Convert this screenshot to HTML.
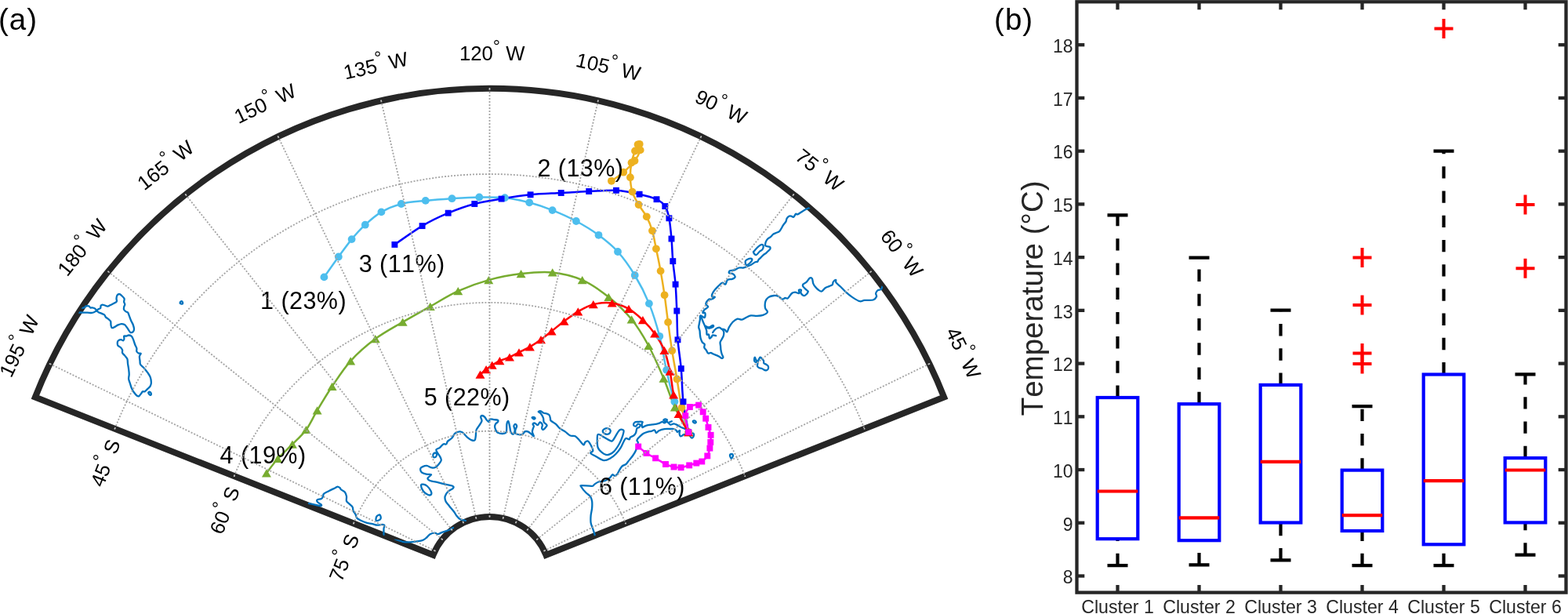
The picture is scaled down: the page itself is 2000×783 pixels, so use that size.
<!DOCTYPE html>
<html><head><meta charset="utf-8"><title>Figure</title>
<style>
html,body{margin:0;padding:0;background:#fff;}
svg{display:block;}
text{font-family:"Liberation Sans", Arial, Helvetica, sans-serif;font-kerning:none;font-feature-settings:"kern" 0;}
</style></head><body>

<svg width="2000" height="783" viewBox="0 0 2000 783">
<rect width="2000" height="783" fill="#fff"/>
<defs><clipPath id="fan"><path d="M44.89 506.5 A623.5 623.5 0 0 1 1204.11 506.5 L696.45 707.77 A77.4 77.4 0 0 0 552.55 707.77 Z"/></clipPath></defs>
<path d="M44.89 506.5 A623.5 623.5 0 0 1 1204.11 506.5 L696.45 707.77 A77.4 77.4 0 0 0 552.55 707.77 Z" fill="none" stroke="#262626" stroke-width="8" stroke-linejoin="miter" stroke-miterlimit="10"/>
<g clip-path="url(#fan)" fill="none" stroke="#0072BD" stroke-width="2.3" stroke-linejoin="round" stroke-linecap="round">
<path d="M99 392.5 C100.42 392.48 105.82 392.7 107.5 392.4 C109.18 392.1 108.13 391.05 109.1 390.7 C110.07 390.35 112.27 390.02 113.3 390.3 C114.33 390.58 114.55 392.05 115.3 392.4 C116.05 392.75 116.9 392.27 117.8 392.4 C118.7 392.53 119.8 392.72 120.7 393.2 C121.6 393.68 122.37 395.15 123.2 395.3 C124.03 395.45 124.87 394.52 125.7 394.1 C126.53 393.68 127.72 393.5 128.2 392.8 C128.68 392.1 128.18 390.58 128.6 389.9 C129.02 389.22 129.8 388.77 130.7 388.7 C131.6 388.63 132.9 389.17 134 389.5 C135.1 389.83 136.05 390.83 137.3 390.7 C138.55 390.57 139.83 389.52 141.5 388.7 C143.17 387.88 146.05 386.57 147.3 385.8 C148.55 385.03 148.8 384.93 149 384.1 C149.2 383.27 148.43 382.05 148.5 380.8 C148.57 379.55 148.77 377.57 149.4 376.6 C150.03 375.63 151.4 375 152.3 375 C153.2 375 153.77 375.63 154.8 376.6 C155.83 377.57 157.95 379.42 158.5 380.8 C159.05 382.18 157.97 383.67 158.1 384.9 C158.23 386.13 159.3 387.08 159.3 388.2 C159.3 389.32 158.3 390.48 158.1 391.6 C157.9 392.72 157.68 393.93 158.1 394.9 C158.52 395.87 159.77 396.78 160.6 397.4 C161.43 398.02 162.42 397.77 163.1 398.6 C163.78 399.43 164.02 400.67 164.7 402.4 C165.38 404.13 166.37 407.07 167.2 409 C168.03 410.93 169.07 412.2 169.7 414 C170.33 415.8 171 418.28 171 419.8 C171 421.32 170.47 422.42 169.7 423.1 C168.93 423.78 167.37 424.32 166.4 423.9 C165.43 423.48 164.73 421.77 163.9 420.6 C163.07 419.43 162.23 418 161.4 416.9 C160.57 415.8 160 414.63 158.9 414 C157.8 413.37 156.18 413.03 154.8 413.1 C153.42 413.17 152.13 413.7 150.6 414.4 C149.07 415.1 146.92 416.68 145.6 417.3 C144.28 417.92 143.38 418.52 142.7 418.1 C142.02 417.68 141.77 416.18 141.5 414.8 C141.23 413.42 141.65 411.12 141.1 409.8 C140.55 408.48 139.25 407.8 138.2 406.9 C137.15 406 135.63 405.3 134.8 404.4 C133.97 403.5 134.02 402.25 133.2 401.5 C132.38 400.75 131.15 400.45 129.9 399.9 C128.65 399.35 126.82 398.77 125.7 398.2 C124.58 397.63 124.17 396.5 123.2 396.5 C122.23 396.5 121 397.78 119.9 398.2 C118.8 398.62 117.98 398.93 116.6 399 C115.22 399.07 113.4 398.67 111.6 398.6 C109.8 398.53 108.23 398.67 105.8 398.6 C103.37 398.53 98.47 398.27 97 398.2"/>
<path d="M1036 263 C1035.38 263.35 1033.68 264.42 1032.3 265.1 C1030.92 265.78 1029.42 266.2 1027.7 267.1 C1025.98 268 1023.72 269.45 1022 270.5 C1020.28 271.55 1018.55 273.02 1017.4 273.4 C1016.25 273.78 1015.97 272.23 1015.1 272.8 C1014.23 273.37 1013.17 276.32 1012.2 276.8 C1011.23 277.28 1010.27 275.88 1009.3 275.7 C1008.33 275.52 1007.35 275.22 1006.4 275.7 C1005.45 276.18 1004.27 277.45 1003.6 278.6 C1002.93 279.75 1003.17 281.17 1002.4 282.6 C1001.63 284.03 1000.33 285.18 999 287.2 C997.67 289.22 995.93 293.07 994.4 294.7 C992.87 296.33 991.15 296.33 989.8 297 C988.45 297.67 987.45 297.85 986.3 298.7 C985.15 299.55 984.13 301.05 982.9 302.1 C981.67 303.15 979.95 303.85 978.9 305 C977.85 306.15 976.98 307.57 976.6 309 C976.22 310.43 975.75 312.63 976.6 313.6 C977.45 314.57 980.75 314.13 981.7 314.8 C982.65 315.47 982.68 316.65 982.3 317.6 C981.92 318.55 980.27 319.63 979.4 320.5 C978.53 321.37 978.05 322.03 977.1 322.8 C976.15 323.57 974.85 324.13 973.7 325.1 C972.55 326.07 971.25 327.55 970.2 328.6 C969.15 329.65 968.07 330.55 967.4 331.4 C966.73 332.25 966.88 333.22 966.2 333.7 C965.52 334.18 964.55 333.72 963.3 334.3 C962.05 334.88 959.85 336.53 958.7 337.2 C957.55 337.87 957.45 337.82 956.4 338.3 C955.35 338.78 953.8 339.57 952.4 340.1 C951 340.63 949.65 341.27 948 341.5 C946.35 341.73 944.38 341.02 942.5 341.5 C940.62 341.98 938.62 343.77 936.7 344.4 C934.78 345.03 932.12 344.67 931 345.3 C929.88 345.93 929.37 347.55 930 348.2 C930.63 348.85 933.52 348.4 934.8 349.2 C936.08 350 937.85 351.88 937.7 353 C937.55 354.12 935.5 355.27 933.9 355.9 C932.3 356.53 929.55 355.68 928.1 356.8 C926.65 357.92 926.32 361.95 925.2 362.6 C924.08 363.25 922.98 360.23 921.4 360.7 C919.82 361.17 917.62 363.5 915.7 365.4 C913.78 367.3 911.18 370.02 909.9 372.1 C908.62 374.18 907.68 376.77 908 377.9 C908.32 379.03 911.97 378.27 911.8 378.9 C911.63 379.53 908.27 381.23 907 381.7 C905.73 382.17 905.32 380.73 904.2 381.7 C903.08 382.67 900.47 385.9 900.3 387.5 C900.13 389.1 903.52 390.03 903.2 391.3 C902.88 392.57 899.52 393.82 898.4 395.1 C897.28 396.38 896.38 398.4 896.5 399 C896.62 399.6 898.6 398.12 899.1 398.7 C899.6 399.28 899.63 401.45 899.5 402.5 C899.37 403.55 899.33 405 898.3 405 C897.27 405 894.2 402.08 893.3 402.5 C892.4 402.92 893.1 405.98 892.9 407.5 C892.7 409.02 892.38 409.95 892.1 411.6 C891.82 413.25 891.13 415.73 891.2 417.4 C891.27 419.07 892.22 420.07 892.5 421.6 C892.78 423.13 892.7 424.95 892.9 426.6 C893.1 428.25 893.22 429.85 893.7 431.5 C894.18 433.15 894.97 435.25 895.8 436.5 C896.63 437.75 898.28 437.88 898.7 439 C899.12 440.12 897.95 441.95 898.3 443.2 C898.65 444.45 899.97 445.27 900.8 446.5 C901.63 447.73 902.33 450.05 903.3 450.6 C904.27 451.15 905.5 449.65 906.6 449.8 C907.7 449.95 908.65 450.95 909.9 451.5 C911.15 452.05 912.85 452.55 914.1 453.1 C915.35 453.65 916.3 454.17 917.4 454.8 C918.5 455.43 919.87 456.77 920.7 456.9 C921.53 457.03 922.4 456.5 922.4 455.6 C922.4 454.7 921.18 453.02 920.7 451.5 C920.22 449.98 919.77 448.17 919.5 446.5 C919.23 444.83 919.25 443.17 919.1 441.5 C918.95 439.83 918.33 438.02 918.6 436.5 C918.87 434.98 920 433.78 920.7 432.4 C921.4 431.02 922.38 429.73 922.8 428.2 C923.22 426.67 923.42 424.58 923.2 423.2 C922.98 421.82 921.28 420.35 921.5 419.9 C921.72 419.45 923.52 419.95 924.5 420.5 C925.48 421.05 926.5 423.72 927.4 423.2 C928.3 422.68 928.67 419.52 929.9 417.4 C931.13 415.28 933.02 412.3 934.8 410.5 C936.58 408.7 938.68 407.08 940.6 406.6 C942.52 406.12 944.4 407.92 946.3 407.6 C948.2 407.28 950.08 405.57 952 404.7 C953.92 403.83 955.55 402.72 957.8 402.4 C960.05 402.08 962.95 402.9 965.5 402.8 C968.05 402.7 970.87 402.6 973.1 401.8 C975.33 401 978.42 399.52 978.9 398 C979.38 396.48 976.42 395 976 392.7 C975.58 390.4 975.7 386.47 976.4 384.2 C977.1 381.93 978.43 380.3 980.2 379.1 C981.97 377.9 984.87 377.22 987 377 C989.13 376.78 991.58 377.3 993 377.8 C994.42 378.3 994.65 379.35 995.5 380 C996.35 380.65 997.1 381.7 998.1 381.7 C999.1 381.7 1000.37 380.22 1001.5 380 C1002.63 379.78 1003.48 381.4 1004.9 380.4 C1006.32 379.4 1008.45 375.28 1010 374 C1011.55 372.72 1012.65 372.7 1014.2 372.7 C1015.75 372.7 1018.52 374.48 1019.3 374 C1020.08 373.52 1018.47 370.5 1018.9 369.8 C1019.33 369.1 1021.48 369.23 1021.9 369.8 C1022.32 370.37 1021.05 372.07 1021.4 373.2 C1021.75 374.33 1023.07 376.03 1024 376.6 C1024.93 377.17 1025.87 377.38 1027 376.6 C1028.13 375.82 1030.52 373.03 1030.8 371.9 C1031.08 370.77 1029.77 370.87 1028.7 369.8 C1027.63 368.73 1025.12 366.72 1024.4 365.5 C1023.68 364.28 1023.68 363.48 1024.4 362.5 C1025.12 361.52 1027.28 360.93 1028.7 359.6 C1030.12 358.27 1031.7 355.22 1032.9 354.5 C1034.1 353.78 1035.18 354.17 1035.9 355.3 C1036.62 356.43 1036.57 359.6 1037.2 361.3 C1037.83 363 1038.57 364.08 1039.7 365.5 C1040.83 366.92 1042.58 368.8 1044 369.8 C1045.42 370.8 1046.78 371.93 1048.2 371.5 C1049.62 371.07 1050.93 368.27 1052.5 367.2 C1054.07 366.13 1056.05 365.8 1057.6 365.1 C1059.15 364.4 1060.95 363.92 1061.8 363 C1062.65 362.08 1061.98 360.6 1062.7 359.6 C1063.42 358.6 1065.47 356.87 1066.1 357 C1066.73 357.13 1065.52 358.98 1066.5 360.4 C1067.48 361.82 1069.95 363.52 1072 365.5 C1074.05 367.48 1076.25 370.03 1078.8 372.3 C1081.35 374.57 1084.32 377.12 1087.3 379.1 C1090.28 381.08 1094.13 383.57 1096.7 384.2 C1099.27 384.83 1099.87 383.18 1102.7 382.9 C1105.53 382.62 1111.15 383.27 1113.7 382.5 C1116.25 381.73 1117.43 379.72 1118 378.3 C1118.57 376.88 1116.82 375.35 1117.1 374 C1117.38 372.65 1118.57 371.05 1119.7 370.2 C1120.83 369.35 1122.92 369.75 1123.9 368.9 C1124.88 368.05 1124.92 366.42 1125.6 365.1 C1126.28 363.78 1127.6 361.68 1128 361"/>
<path d="M894.1 403.3 C894.52 404.42 895.77 407.92 896.6 410 C897.43 412.08 898.33 413.87 899.1 415.8 C899.87 417.73 900.78 419.8 901.2 421.6 C901.62 423.4 901.12 425.77 901.6 426.6 C902.08 427.43 903.55 425.78 904.1 426.6 C904.65 427.42 904.35 430.95 904.9 431.5 C905.45 432.05 906.7 430.58 907.4 429.9 C908.1 429.22 908.13 427.68 909.1 427.4 C910.07 427.12 912.52 428.07 913.2 428.2"/>
<path d="M900 415.8 C900.68 416.07 902.58 417.55 904.1 417.4 C905.62 417.25 908.13 415.03 909.1 414.9 C910.07 414.77 910.58 416 909.9 416.6 C909.22 417.2 906.48 418.27 905 418.5 C903.52 418.73 901.67 418.08 901 418"/>
<path d="M909.1 424.1 C909.52 423.53 910.63 421.67 911.6 420.7 C912.57 419.73 913.8 418.78 914.9 418.3 C916 417.82 917.23 417.53 918.2 417.8 C919.17 418.07 920.28 419.55 920.7 419.9"/>
<path d="M394 642 C394.73 642.15 396.02 642.37 398.4 642.9 C400.78 643.43 406.38 645.08 408.3 645.2 C410.22 645.32 410.4 644.37 409.9 643.6 C409.4 642.83 406.2 641.62 405.3 640.6 C404.4 639.58 403.73 638.27 404.5 637.5 C405.27 636.73 408.62 636.77 409.9 636 C411.18 635.23 411.7 633.93 412.2 632.9 C412.7 631.87 411.63 630.95 412.9 629.8 C414.17 628.65 417.37 627.27 419.8 626 C422.23 624.73 425.7 623.1 427.5 622.2 C429.3 621.3 429.58 620.6 430.6 620.6 C431.62 620.6 432.83 621.55 433.6 622.2 C434.37 622.85 434.17 623.62 435.2 624.5 C436.23 625.38 438.67 626.1 439.8 627.5 C440.93 628.9 441.63 630.98 442 632.9 C442.37 634.82 441.35 637.33 442 639 C442.65 640.67 444.62 641.62 445.9 642.9 C447.18 644.18 448.93 645.3 449.7 646.7 C450.47 648.1 449.87 649.77 450.5 651.3 C451.13 652.83 452.73 654.37 453.5 655.9 C454.27 657.43 454.07 659.23 455.1 660.5 C456.13 661.77 457.67 662.48 459.7 663.5 C461.73 664.52 464.75 665.83 467.3 666.6 C469.85 667.37 472.7 667.58 475 668.1 C477.3 668.62 479.07 669.57 481.1 669.7 C483.13 669.83 485.67 668.9 487.2 668.9 C488.73 668.9 489.92 668.8 490.3 669.7 C490.68 670.6 489.63 672.25 489.5 674.3 C489.37 676.35 489.5 680.72 489.5 682"/>
<path d="M503 689 C503.7 689.05 505.23 688.95 507.2 689.3 C509.17 689.65 511.75 690.8 514.8 691.1 C517.85 691.4 521.42 691.48 525.5 691.1 C529.58 690.72 536.1 689.82 539.3 688.8 C542.5 687.78 543.17 686.27 544.7 685 C546.23 683.73 546.83 682.1 548.5 681.2 C550.17 680.3 553.03 679.6 554.7 679.6 C556.37 679.6 556.97 681.32 558.5 681.2 C560.03 681.08 561.48 679.8 563.9 678.9 C566.32 678 570.65 676.78 573 675.8 C575.35 674.82 577.17 673.47 578 673"/>
<path d="M594 664 C592.8 663.67 588.77 663.1 586.8 662 C584.83 660.9 583.47 658.93 582.2 657.4 C580.93 655.87 580.73 654.83 579.2 652.8 C577.67 650.77 574.8 647.5 573 645.2 C571.2 642.9 569.28 641.05 568.4 639 C567.52 636.95 567.18 634.93 567.7 632.9 C568.22 630.87 569.85 628.47 571.5 626.8 C573.15 625.13 576.58 624.05 577.6 622.9 C578.62 621.75 579.25 620.78 577.6 619.9 C575.95 619.02 570.77 618.37 567.7 617.6 C564.63 616.83 562.4 616.07 559.2 615.3 C556 614.53 550.78 613.9 548.5 613 C546.22 612.1 545.23 611.18 545.5 609.9 C545.77 608.62 550.37 606.18 550.1 605.3 C549.83 604.42 545.95 605.1 543.9 604.6 C541.85 604.1 539.07 603.48 537.8 602.3 C536.53 601.12 536.07 598.7 536.3 597.5 C536.53 596.3 537.87 595.7 539.2 595.1 C540.53 594.5 542.38 593.68 544.3 593.9 C546.22 594.12 548.78 596.08 550.7 596.4 C552.62 596.72 554.32 596.53 555.8 595.8 C557.28 595.07 558.43 593.5 559.6 592 C560.77 590.5 562.58 588.52 562.8 586.8 C563.02 585.08 561.65 583.18 560.9 581.7 C560.15 580.22 559.05 579.28 558.3 577.9 C557.55 576.52 555.97 574.57 556.4 573.4 C556.83 572.23 559.42 572.07 560.9 570.9 C562.38 569.73 563.92 567.15 565.3 566.4 C566.68 565.65 568.23 567.03 569.2 566.4 C570.17 565.77 569.93 563.88 571.1 562.6 C572.27 561.32 574.6 560.4 576.2 558.7 C577.8 557 579 553.78 580.7 552.4 C582.4 551.02 584.82 550.52 586.4 550.4 C587.98 550.28 588.5 550.42 590.2 551.7 C591.9 552.98 594.68 556.5 596.6 558.1 C598.52 559.7 600.2 560.77 601.7 561.3 C603.2 561.83 604.75 562.15 605.6 561.3 C606.45 560.45 606.48 558.33 606.8 556.2 C607.12 554.07 606.85 550.63 607.5 548.5 C608.15 546.37 609.53 545.32 610.7 543.4 C611.87 541.48 614.08 538.92 614.5 537 C614.92 535.08 613.1 533.07 613.2 531.9 C613.3 530.73 614.25 530 615.1 530 C615.95 530 617.33 530.93 618.3 531.9 C619.27 532.87 619.93 534.73 620.9 535.8 C621.87 536.87 623.47 538.52 624.1 538.3 C624.73 538.08 623.75 535.03 624.7 534.5 C625.65 533.97 628.1 534.88 629.8 535.1 C631.5 535.32 634.05 535.27 634.9 535.8 C635.75 536.33 635.32 537.57 634.9 538.3 C634.48 539.03 633.03 539.23 632.4 540.2 C631.77 541.17 631.1 542.72 631.1 544.1 C631.1 545.48 631.77 547.23 632.4 548.5 C633.03 549.77 633.42 550.95 634.9 551.7 C636.38 552.45 639.48 553.1 641.3 553 C643.12 552.9 644.95 553.12 645.8 551.1 C646.65 549.08 645.97 543.25 646.4 540.9 C646.83 538.55 647.75 536.37 648.4 537 C649.05 537.63 649.78 542.35 650.3 544.7 C650.82 547.05 650.77 549.62 651.5 551.1 C652.23 552.58 653.83 554.03 654.7 553.6 C655.57 553.17 656.58 550.2 656.7 548.5 C656.82 546.8 655.3 544.67 655.4 543.4 C655.5 542.13 656.67 540.9 657.3 540.9 C657.93 540.9 659.2 542.13 659.2 543.4 C659.2 544.67 657.52 546.9 657.3 548.5 C657.08 550.1 656.95 552.03 657.9 553 C658.85 553.97 661.5 554.2 663 554.3 C664.5 554.4 665.83 554.25 666.9 553.6 C667.97 552.95 668.33 550.93 669.4 550.4 C670.47 549.87 671.92 549.87 673.3 550.4 C674.68 550.93 676.43 552.63 677.7 553.6 C678.97 554.57 680.68 556.62 680.9 556.2 C681.12 555.78 679.22 552.58 679 551.1 C678.78 549.62 679.28 548.58 679.6 547.3 C679.92 546.02 680.9 544.47 680.9 543.4 C680.9 542.33 679.38 541.53 679.6 540.9 C679.82 540.27 681.13 539.4 682.2 539.6 C683.27 539.8 684.93 542.32 686 542.1 C687.07 541.88 687.63 538.4 688.6 538.3 C689.57 538.2 691.38 540.22 691.8 541.5 C692.22 542.78 690.9 544.93 691.1 546 C691.3 547.07 692.15 548.12 693 547.9 C693.85 547.68 695.45 545.67 696.2 544.7 C696.95 543.73 697.92 543.17 697.5 542.1 C697.08 541.03 694.45 539.78 693.7 538.3 C692.95 536.82 693.63 535 693 533.2 C692.37 531.4 690.95 528.88 689.9 527.5 C688.85 526.12 686.7 525.43 686.7 524.9 C686.7 524.37 688.73 523.98 689.9 524.3 C691.07 524.62 692.43 526.27 693.7 526.8 C694.97 527.33 696.33 527.07 697.5 527.5 C698.67 527.93 699.95 528.35 700.7 529.4 C701.45 530.45 701.68 532.63 702 533.8 C702.32 534.97 701.43 535.22 702.6 536.4 C703.77 537.58 707.08 539.23 709 540.9 C710.92 542.57 712.08 544.78 714.1 546.4 C716.12 548.02 718.88 549.08 721.1 550.6 C723.32 552.12 725.3 554.57 727.4 555.5 C729.5 556.43 731.72 555.15 733.7 556.2 C735.68 557.25 737.53 559.93 739.3 561.8 C741.07 563.67 743.12 567.05 744.3 567.4 C745.48 567.75 745.47 564.72 746.4 563.9 C747.33 563.08 748.85 562.15 749.9 562.5 C750.95 562.85 751.77 564.47 752.7 566 C753.63 567.53 754.92 570.17 755.5 571.7 C756.08 573.23 756.55 574.15 756.2 575.2 C755.85 576.25 752.7 576.83 753.4 578 C754.1 579.17 757.58 580.68 760.4 582.2 C763.22 583.72 767.25 586.75 770.3 587.1 C773.35 587.45 776.13 585.7 778.7 584.3 C781.27 582.9 783.6 580.8 785.7 578.7 C787.8 576.6 789.67 574.28 791.3 571.7 C792.93 569.12 794.32 565.32 795.5 563.2 C796.68 561.08 797.22 559.47 798.4 559 C799.58 558.53 801.67 560.63 802.6 560.4 C803.53 560.17 803.07 558.42 804 557.6 C804.93 556.78 807.03 556.43 808.2 555.5 C809.37 554.57 810.3 553.52 811 552 C811.7 550.48 811.7 547.57 812.4 546.4 C813.1 545.23 814.5 545.7 815.2 545 C815.9 544.3 816.83 542.92 816.6 542.2 C816.37 541.48 814.73 540.47 813.8 540.7 C812.87 540.93 811.93 543.35 811 543.6 C810.07 543.85 808.43 543.03 808.2 542.2 C807.97 541.37 808.67 539.32 809.6 538.6 C810.53 537.88 812.17 538.02 813.8 537.9 C815.43 537.78 818.58 537.43 819.4 537.9 C820.22 538.37 818.7 539.52 818.7 540.7 C818.7 541.88 818.82 544.52 819.4 545 C819.98 545.48 821.02 544.07 822.2 543.6 C823.38 543.13 824.85 542.57 826.5 542.2 C828.15 541.83 830.23 541.65 832.1 541.4 C833.97 541.15 836.07 541.05 837.7 540.7 C839.33 540.35 840.73 539.77 841.9 539.3 C843.07 538.83 843.77 537.9 844.7 537.9 C845.63 537.9 846.45 539.3 847.5 539.3 C848.55 539.3 849.75 537.52 851 537.9 C852.25 538.28 853.58 541.2 855 541.6 C856.42 542 858 540.22 859.5 540.3 C861 540.38 862.52 541.37 864 542.1 C865.48 542.83 866.77 543.88 868.4 544.7 C870.03 545.52 872.37 546.28 873.8 547 C875.23 547.72 876.13 548.17 877 549 C877.87 549.83 878.5 550.83 879 552 C879.5 553.17 879.38 554.9 880 556 C880.62 557.1 881.95 558.47 882.7 558.6 C883.45 558.73 884.12 557.62 884.5 556.8 C884.88 555.98 885.15 554.45 885 553.7 C884.85 552.95 884.27 552.42 883.6 552.3 C882.93 552.18 882.1 552.72 881 553 C879.9 553.28 878.5 553.82 877 554 C875.5 554.18 873.13 553.85 872 554.1 C870.87 554.35 870.87 555.12 870.2 555.5 C869.53 555.88 868.6 556.78 868 556.4 C867.4 556.02 866.75 554.4 866.6 553.2 C866.45 552 867.25 549.78 867.1 549.2 C866.95 548.62 866.23 549.4 865.7 549.7 C865.17 550 864.42 551.15 863.9 551 C863.38 550.85 863.33 549.47 862.6 548.8 C861.87 548.13 860.77 547.3 859.5 547 C858.23 546.7 857 546.98 855 547 C853 547.02 849.92 546.73 847.5 547.1 C845.08 547.47 842.25 548.38 840.5 549.2 C838.75 550.02 837.93 552.12 837 552 C836.07 551.88 835.95 548.85 834.9 548.5 C833.85 548.15 832.1 549.55 830.7 549.9 C829.3 550.25 828.15 550.13 826.5 550.6 C824.85 551.07 822.45 551.77 820.8 552.7 C819.15 553.63 817.77 555.15 816.6 556.2 C815.43 557.25 814.5 558.07 813.8 559 C813.1 559.93 812.4 560.87 812.4 561.8 C812.4 562.73 814.03 562.48 813.8 564.6 C813.57 566.72 812.17 571.68 811 574.5 C809.83 577.32 808.43 579.17 806.8 581.5 C805.17 583.83 802.6 586.75 801.2 588.5 C799.8 590.25 799.7 590.98 798.4 592 C797.1 593.02 794.75 593.4 793.4 594.6 C792.05 595.8 791.32 597.53 790.3 599.2 C789.28 600.87 788.32 603.32 787.3 604.6 C786.28 605.88 785.23 606.78 784.2 606.9 C783.17 607.02 782.12 604.92 781.1 605.3 C780.08 605.68 779.62 607.92 778.1 609.2 C776.58 610.48 774.43 612.12 772 613 C769.57 613.88 765.8 613.73 763.5 614.5 C761.2 615.27 759.6 616.7 758.2 617.6 C756.8 618.5 757.78 619.65 755.1 619.9 C752.42 620.15 744.4 618.97 742.1 619.1 C739.8 619.23 740.42 619.17 741.3 620.7 C742.18 622.23 745.48 626.27 747.4 628.3 C749.32 630.33 751.52 631.12 752.8 632.9 C754.08 634.68 754.72 636.45 755.1 639 C755.48 641.55 755.35 645.13 755.1 648.2 C754.85 651.27 753.85 654.33 753.6 657.4 C753.35 660.47 753.22 663.92 753.6 666.6 C753.98 669.28 755.13 671.2 755.9 673.5 C756.67 675.8 757.6 678.32 758.2 680.4 C758.8 682.48 759.28 685.07 759.5 686"/>
<path d="M854.2 538.3 L856.8 537.2"/>
<path d="M149.8 436.7 C149.9 435.65 150.13 434.98 150.9 434.4 C151.67 433.82 153.35 433.2 154.4 433.2 C155.45 433.2 156.53 434.58 157.2 434.4 C157.87 434.22 158.23 433.07 158.4 432.1 C158.57 431.13 157.72 429.18 158.2 428.6 C158.68 428.02 160.32 428.78 161.3 428.6 C162.28 428.42 163.05 427.5 164.1 427.5 C165.15 427.5 166.63 427.75 167.6 428.6 C168.57 429.45 169.13 430.78 169.9 432.6 C170.67 434.42 171.47 437.58 172.2 439.5 C172.93 441.42 173.95 442.65 174.3 444.1 C174.65 445.55 173.88 447.13 174.3 448.2 C174.72 449.27 175.9 450.07 176.8 450.5 C177.7 450.93 179.52 450.13 179.7 450.8 C179.88 451.47 178.1 452.93 177.9 454.5 C177.7 456.07 178.3 458.48 178.5 460.2 C178.7 461.92 178.23 463.27 179.1 464.8 C179.97 466.33 182.17 467.67 183.7 469.4 C185.23 471.13 186.97 473.28 188.3 475.2 C189.63 477.12 190.93 478.8 191.7 480.9 C192.47 483 192.9 485.88 192.9 487.8 C192.9 489.72 192.47 491.05 191.7 492.4 C190.93 493.75 189.45 494.75 188.3 495.9 C187.15 497.05 185.85 498.73 184.8 499.3 C183.75 499.87 182.77 498.92 182 499.3 C181.23 499.68 180.97 500.63 180.2 501.6 C179.43 502.57 178.35 504.62 177.4 505.1 C176.45 505.58 175.57 505.27 174.5 504.5 C173.43 503.73 172.05 501.93 171 500.5 C169.95 499.07 169.05 497.82 168.2 495.9 C167.35 493.98 166.58 491.12 165.9 489 C165.22 486.88 164.3 485.12 164.1 483.2 C163.9 481.28 164.7 479.6 164.7 477.5 C164.7 475.4 164.38 472.9 164.1 470.6 C163.82 468.3 163.28 465.82 163 463.7 C162.72 461.58 162.98 459.53 162.4 457.9 C161.82 456.27 160.55 455.23 159.5 453.9 C158.45 452.57 156.67 451.15 156.1 449.9 C155.53 448.65 156.48 447.55 156.1 446.4 C155.72 445.25 154.77 443.95 153.8 443 C152.83 442.05 150.97 441.75 150.3 440.7 C149.63 439.65 149.7 437.75 149.8 436.7 Z"/>
<path d="M189.2 500.6 C189.32 500.03 190.7 499.6 191.3 499.8 C191.9 500 192.63 501.13 192.8 501.8 C192.97 502.47 192.67 503.57 192.3 503.8 C191.93 504.03 191.12 503.73 190.6 503.2 C190.08 502.67 189.08 501.17 189.2 500.6 Z"/>
<path d="M229.6 386.6 C229.52 386.05 230.5 384.6 231 384.3 C231.5 384 232.27 384.32 232.6 384.8 C232.93 385.28 233.18 386.73 233 387.2 C232.82 387.67 232.07 387.7 231.5 387.6 C230.93 387.5 229.68 387.15 229.6 386.6 Z"/>
<path d="M969.7 455.7 C970.18 455.85 971.08 456.48 971.8 457.2 C972.52 457.92 973.58 459 974 460 C974.42 461 973.77 462.42 974.3 463.2 C974.83 463.98 976.3 464.1 977.2 464.7 C978.1 465.3 979.23 465.92 979.7 466.8 C980.17 467.68 980.3 469.1 980 470 C979.7 470.9 978.73 471.9 977.9 472.2 C977.07 472.5 976.02 472.17 975 471.8 C973.98 471.43 972.87 470.42 971.8 470 C970.73 469.58 969.55 469.77 968.6 469.3 C967.65 468.83 966.47 468.15 966.1 467.2 C965.73 466.25 966.28 464.62 966.4 463.6 C966.52 462.58 966.55 462 966.8 461.1 C967.05 460.2 967.55 459 967.9 458.2 C968.25 457.4 968.6 456.72 968.9 456.3 C969.2 455.88 969.22 455.55 969.7 455.7 Z"/>
<path d="M962.9 455.7 C963.18 455.87 963.48 457.37 963.9 458.2 C964.32 459.03 965.4 460.1 965.4 460.7 C965.4 461.3 964.43 461.85 963.9 461.8 C963.37 461.75 962.48 461.17 962.2 460.4 C961.92 459.63 962.08 457.98 962.2 457.2 C962.32 456.42 962.62 455.53 962.9 455.7 Z"/>
<path d="M961 321.7 C961.38 322.57 963.15 325.3 964.5 325.1 C965.85 324.9 967.77 321.65 969.1 320.5 C970.43 319.35 971.73 319.35 972.5 318.2 C973.27 317.05 973.88 314.65 973.7 313.6 C973.52 312.55 972.55 311.7 971.4 311.9 C970.25 312.1 968.33 313.47 966.8 314.8 C965.27 316.13 963.17 318.75 962.2 319.9 C961.23 321.05 960.62 320.83 961 321.7 Z"/>
<path d="M950.7 333.2 C950.87 332.03 951.85 331.58 953 331 C954.15 330.42 956.55 329.63 957.6 329.7 C958.65 329.77 959.5 330.43 959.3 331.4 C959.1 332.37 957.62 334.4 956.4 335.5 C955.18 336.6 952.95 338.38 952 338 C951.05 337.62 950.53 334.37 950.7 333.2 Z"/>
<path d="M479.6 663.5 C479.18 662.67 479.68 659.65 480.5 658.5 C481.32 657.35 483.63 656.18 484.5 656.6 C485.37 657.02 485.95 659.85 485.7 661 C485.45 662.15 484.02 663.08 483 663.5 C481.98 663.92 480.02 664.33 479.6 663.5 Z"/>
<path d="M762.5 554.1 C761.8 554.63 761.8 555.3 761.8 558 C761.8 560.7 761.57 567.2 762.5 570.3 C763.43 573.4 765.4 574.97 767.4 576.6 C769.4 578.23 771.92 580.22 774.5 580.1 C777.08 579.98 780.33 578.25 782.9 575.9 C785.47 573.55 788.03 569.28 789.9 566 C791.77 562.72 793.17 559 794.1 556.2 C795.03 553.4 795.97 550.6 795.5 549.2 C795.03 547.8 792.47 547.57 791.3 547.8 C790.13 548.03 789.67 548.97 788.5 550.6 C787.33 552.23 785.58 555.62 784.3 557.6 C783.02 559.58 782.08 561.92 780.8 562.5 C779.52 563.08 778.35 561.92 776.6 561.1 C774.85 560.28 772.07 558.65 770.3 557.6 C768.53 556.55 767.3 555.38 766 554.8 C764.7 554.22 763.2 553.57 762.5 554.1 Z"/>
<path d="M768.8 550 C768.63 548.93 769.88 547.6 771 547 C772.12 546.4 774.22 546.07 775.5 546.4 C776.78 546.73 778.45 547.9 778.7 549 C778.95 550.1 778.12 552.27 777 553 C775.88 553.73 773.37 553.9 772 553.4 C770.63 552.9 768.97 551.07 768.8 550 Z"/>
<path d="M846.2 535.8 C846.18 535.33 847.7 534.43 848.5 534.4 C849.3 534.37 850.98 535.13 851 535.6 C851.02 536.07 849.4 537.17 848.6 537.2 C847.8 537.23 846.22 536.27 846.2 535.8 Z"/>
<path d="M553 583 C552.42 582.5 552.17 580.42 552.5 579.5 C552.83 578.58 554.25 577.58 555 577.5 C555.75 577.42 556.83 578.17 557 579 C557.17 579.83 556.67 581.83 556 582.5 C555.33 583.17 553.58 583.5 553 583 Z"/>
<path d="M537 619 C537 617.52 538.67 617.43 540 617.6 C541.33 617.77 543.42 618.6 545 620 C546.58 621.4 548.67 624.25 549.5 626 C550.33 627.75 550.58 629.67 550 630.5 C549.42 631.33 547.67 631.67 546 631 C544.33 630.33 541.5 628.5 540 626.5 C538.5 624.5 537 620.48 537 619 Z"/>
<path d="M678.6 532.6 C678.52 532.17 679.83 531.8 680.5 531.9 C681.17 532 682.52 532.77 682.6 533.2 C682.68 533.63 681.67 534.6 681 534.5 C680.33 534.4 678.68 533.03 678.6 532.6 Z"/>
<path d="M931 580.5 C931.08 579.58 932.33 579 933 579 C933.67 579 934.83 579.75 935 580.5 C935.17 581.25 934.42 582.83 934 583.5 C933.58 584.17 933 585 932.5 584.5 C932 584 930.92 581.42 931 580.5 Z"/>
<path d="M883.8 537.2 C883.82 536.72 884.87 536.33 885.5 536.4 C886.13 536.47 887.28 537.13 887.6 537.6 C887.92 538.07 887.77 538.92 887.4 539.2 C887.03 539.48 886 539.63 885.4 539.3 C884.8 538.97 883.78 537.68 883.8 537.2 Z"/>
</g>
<path d="M413.4 353.4 C416.47 349.08 425.93 335.55 431.8 327.5 C437.67 319.45 442.93 311.9 448.6 305.1 C454.27 298.3 459.5 292.48 465.8 286.7 C472.1 280.92 478.73 274.85 486.4 270.4 C494.07 265.95 502.4 262.42 511.8 260 C521.2 257.58 532.02 257.03 542.8 255.9 C553.58 254.77 565.08 253.93 576.5 253.2 C587.92 252.47 600.07 251.67 611.3 251.5 C622.53 251.33 633.25 251.07 643.9 252.2 C654.55 253.33 665.08 255.65 675.2 258.3 C685.32 260.95 694.65 264.15 704.6 268.1 C714.55 272.05 725.08 276.72 734.9 282 C744.72 287.28 754.65 293.3 763.5 299.8 C772.35 306.3 780.3 312.47 788 321 C795.7 329.53 803.05 339.98 809.7 351 C816.35 362.02 822.63 374.13 827.9 387.1 C833.17 400.07 837.6 414.67 841.3 428.8 C845 442.93 846.92 457.98 850.1 471.9 C853.28 485.82 855.72 499.08 860.4 512.3 C865.08 525.52 875.23 544.72 878.2 551.2" fill="none" stroke="#4DBEEE" stroke-width="2.5" stroke-linejoin="round"/>
<path d="M779.9 230.8 C782.45 228.95 790.27 224 795.2 219.7 C800.13 215.4 805.92 209.72 809.5 205 C813.08 200.28 815.67 194.93 816.7 191.4 C817.73 187.87 816.22 184.98 815.7 183.8 C815.18 182.62 814.55 182.85 813.6 184.3 C812.65 185.75 811.35 188.63 810 192.5 C808.65 196.37 806.52 201.88 805.5 207.5 C804.48 213.12 803.73 220.02 803.9 226.2 C804.07 232.38 804.72 238.8 806.5 244.6 C808.28 250.4 811.55 255.72 814.6 261 C817.65 266.28 821.9 270.75 824.8 276.3 C827.7 281.85 829.98 287.47 832 294.3 C834.02 301.13 835.13 308.75 836.9 317.3 C838.67 325.85 840.82 335.77 842.6 345.6 C844.38 355.43 846.02 365.42 847.6 376.3 C849.18 387.18 850.5 399.08 852.1 410.9 C853.7 422.72 855.3 435.1 857.2 447.2 C859.1 459.3 861.45 471.38 863.5 483.5 C865.55 495.62 867.05 508.62 869.5 519.9 C871.95 531.18 876.75 545.98 878.2 551.2" fill="none" stroke="#EDB120" stroke-width="2.5" stroke-linejoin="round"/>
<path d="M503.4 311.9 C509.27 307.93 527.22 294.8 538.6 288.1 C549.98 281.4 560.58 276.38 571.7 271.7 C582.82 267.02 593.98 263.02 605.3 260 C616.62 256.98 627.72 255.55 639.6 253.6 C651.48 251.65 663.92 249.57 676.6 248.3 C689.28 247.03 703.27 246.72 715.7 246 C728.13 245.28 739.48 244.53 751.2 244 C762.92 243.47 775.27 242.18 786 242.8 C796.73 243.42 807.02 245.8 815.6 247.7 C824.18 249.6 832.05 251.65 837.5 254.2 C842.95 256.75 845.65 258.98 848.3 263 C850.95 267.02 852.03 271.38 853.4 278.3 C854.77 285.22 855.68 295.37 856.5 304.5 C857.32 313.63 857.45 323.42 858.3 333.1 C859.15 342.78 860.77 352.03 861.6 362.6 C862.43 373.17 862.82 384.72 863.3 396.5 C863.78 408.28 863.58 421.03 864.5 433.3 C865.42 445.57 867.63 456.93 868.8 470.1 C869.97 483.27 869.93 498.78 871.5 512.3 C873.07 525.82 877.08 544.72 878.2 551.2" fill="none" stroke="#0000FF" stroke-width="2.5" stroke-linejoin="round"/>
<path d="M339.9 603.3 C342.3 600.25 348.8 591.1 354.3 585 C359.8 578.9 366.87 572.87 372.9 566.7 C378.93 560.53 385.22 555.22 390.5 548 C395.78 540.78 399.08 532.6 404.6 523.4 C410.12 514.2 416.5 503.32 423.6 492.8 C430.7 482.28 438 470.42 447.2 460.3 C456.4 450.18 467.72 440.37 478.8 432.1 C489.88 423.83 502.03 417.58 513.7 410.7 C525.37 403.82 537.03 397.38 548.8 390.8 C560.57 384.22 571.88 376.82 584.3 371.2 C596.72 365.58 609.92 360.78 623.3 357.1 C636.68 353.42 651.03 350.72 664.6 349.1 C678.17 347.48 691.68 346.07 704.7 347.4 C717.72 348.73 730.77 351.87 742.7 357.1 C754.63 362.33 765.82 370.43 776.3 378.8 C786.78 387.17 797.1 396.93 805.6 407.3 C814.1 417.67 820.48 428.45 827.3 441 C834.12 453.55 840.92 469.53 846.5 482.6 C852.08 495.67 855.52 507.97 860.8 519.4 C866.08 530.83 875.3 545.9 878.2 551.2" fill="none" stroke="#77AC30" stroke-width="2.5" stroke-linejoin="round"/>
<path d="M612.5 477.6 C613.77 476.52 617.57 473.08 620.1 471.1 C622.63 469.12 624.82 467.52 627.7 465.7 C630.58 463.88 633.68 461.9 637.4 460.2 C641.12 458.5 645.9 457.3 650 455.5 C654.1 453.7 657.68 451.58 662 449.4 C666.32 447.22 671.23 445.12 675.9 442.4 C680.57 439.68 685.38 436.45 690 433.1 C694.62 429.75 698.68 426.2 703.6 422.3 C708.52 418.4 713.88 413.87 719.5 409.7 C725.12 405.53 731.08 400.88 737.3 397.3 C743.52 393.72 749.57 390 756.8 388.2 C764.03 386.4 773.17 385.55 780.7 386.5 C788.23 387.45 795.47 390.28 802 393.9 C808.53 397.52 814.38 402.93 819.9 408.2 C825.42 413.47 830.52 419.07 835.1 425.5 C839.68 431.93 844.17 438.78 847.4 446.8 C850.63 454.82 852.53 464.18 854.5 473.6 C856.47 483.02 857.37 494.23 859.2 503.3 C861.03 512.37 862.33 520.02 865.5 528 C868.67 535.98 876.08 547.33 878.2 551.2" fill="none" stroke="#FF0000" stroke-width="2.5" stroke-linejoin="round"/>
<path d="M814.2 569.5 C815.9 570.9 820.75 575.43 824.4 577.9 C828.05 580.37 832 581.95 836.1 584.3 C840.2 586.65 845.1 590.13 849 592 C852.9 593.87 856.23 594.8 859.5 595.5 C862.77 596.2 865.32 596.55 868.6 596.2 C871.88 595.85 875.92 594.33 879.2 593.4 C882.48 592.47 885.62 591.42 888.3 590.6 C890.98 589.78 892.97 590.03 895.3 588.5 C897.63 586.97 900.62 584.22 902.3 581.4 C903.98 578.58 904.73 574.52 905.4 571.6 C906.07 568.68 906.1 566.7 906.3 563.9 C906.5 561.1 907.07 557.97 906.6 554.8 C906.13 551.63 904.57 548.42 903.5 544.9 C902.43 541.38 901.33 536.97 900.2 533.7 C899.07 530.43 898.22 528.15 896.7 525.3 C895.18 522.45 893.9 517.65 891.1 516.6 C888.3 515.55 882.7 516.73 879.9 519 C877.1 521.27 874.58 524.83 874.3 530.2 C874.02 535.57 877.55 547.7 878.2 551.2" fill="none" stroke="#FF00FF" stroke-width="2.5" stroke-linejoin="round"/>
<g fill="#4DBEEE">
<circle cx="413.4" cy="353.4" r="4.9"/>
<circle cx="431.8" cy="327.5" r="4.9"/>
<circle cx="448.6" cy="305.1" r="4.9"/>
<circle cx="465.8" cy="286.7" r="4.9"/>
<circle cx="486.4" cy="270.4" r="4.9"/>
<circle cx="511.8" cy="260" r="4.9"/>
<circle cx="542.8" cy="255.9" r="4.9"/>
<circle cx="576.5" cy="253.2" r="4.9"/>
<circle cx="611.3" cy="251.5" r="4.9"/>
<circle cx="643.9" cy="252.2" r="4.9"/>
<circle cx="675.2" cy="258.3" r="4.9"/>
<circle cx="704.6" cy="268.1" r="4.9"/>
<circle cx="734.9" cy="282" r="4.9"/>
<circle cx="763.5" cy="299.8" r="4.9"/>
<circle cx="788" cy="321" r="4.9"/>
<circle cx="809.7" cy="351" r="4.9"/>
<circle cx="827.9" cy="387.1" r="4.9"/>
<circle cx="841.3" cy="428.8" r="4.9"/>
<circle cx="850.1" cy="471.9" r="4.9"/>
<circle cx="860.4" cy="512.3" r="4.9"/>
<circle cx="878.2" cy="551.2" r="4.9"/>
</g>
<g fill="#EDB120">
<circle cx="779.9" cy="230.8" r="4.9"/>
<circle cx="795.2" cy="219.7" r="4.9"/>
<circle cx="809.5" cy="205" r="4.9"/>
<circle cx="816.7" cy="191.4" r="4.9"/>
<circle cx="815.7" cy="183.8" r="4.9"/>
<circle cx="813.6" cy="184.3" r="4.9"/>
<circle cx="810" cy="192.5" r="4.9"/>
<circle cx="805.5" cy="207.5" r="4.9"/>
<circle cx="803.9" cy="226.2" r="4.9"/>
<circle cx="806.5" cy="244.6" r="4.9"/>
<circle cx="814.6" cy="261" r="4.9"/>
<circle cx="824.8" cy="276.3" r="4.9"/>
<circle cx="832" cy="294.3" r="4.9"/>
<circle cx="836.9" cy="317.3" r="4.9"/>
<circle cx="842.6" cy="345.6" r="4.9"/>
<circle cx="847.6" cy="376.3" r="4.9"/>
<circle cx="852.1" cy="410.9" r="4.9"/>
<circle cx="857.2" cy="447.2" r="4.9"/>
<circle cx="863.5" cy="483.5" r="4.9"/>
<circle cx="869.5" cy="519.9" r="4.9"/>
<circle cx="878.2" cy="551.2" r="4.9"/>
</g>
<g fill="#0000FF">
<rect x="499.45" y="307.95" width="7.9" height="7.9"/>
<rect x="534.65" y="284.15" width="7.9" height="7.9"/>
<rect x="567.75" y="267.75" width="7.9" height="7.9"/>
<rect x="601.35" y="256.05" width="7.9" height="7.9"/>
<rect x="635.65" y="249.65" width="7.9" height="7.9"/>
<rect x="672.65" y="244.35" width="7.9" height="7.9"/>
<rect x="711.75" y="242.05" width="7.9" height="7.9"/>
<rect x="747.25" y="240.05" width="7.9" height="7.9"/>
<rect x="782.05" y="238.85" width="7.9" height="7.9"/>
<rect x="811.65" y="243.75" width="7.9" height="7.9"/>
<rect x="833.55" y="250.25" width="7.9" height="7.9"/>
<rect x="844.35" y="259.05" width="7.9" height="7.9"/>
<rect x="849.45" y="274.35" width="7.9" height="7.9"/>
<rect x="852.55" y="300.55" width="7.9" height="7.9"/>
<rect x="854.35" y="329.15" width="7.9" height="7.9"/>
<rect x="857.65" y="358.65" width="7.9" height="7.9"/>
<rect x="859.35" y="392.55" width="7.9" height="7.9"/>
<rect x="860.55" y="429.35" width="7.9" height="7.9"/>
<rect x="864.85" y="466.15" width="7.9" height="7.9"/>
<rect x="867.55" y="508.35" width="7.9" height="7.9"/>
<rect x="874.25" y="547.25" width="7.9" height="7.9"/>
</g>
<g fill="#77AC30">
<polygon points="339.9,598.2 333.9,608.4 345.9,608.4"/>
<polygon points="354.3,579.9 348.3,590.1 360.3,590.1"/>
<polygon points="372.9,561.6 366.9,571.8 378.9,571.8"/>
<polygon points="390.5,542.9 384.5,553.1 396.5,553.1"/>
<polygon points="404.6,518.3 398.6,528.5 410.6,528.5"/>
<polygon points="423.6,487.7 417.6,497.9 429.6,497.9"/>
<polygon points="447.2,455.2 441.2,465.4 453.2,465.4"/>
<polygon points="478.8,427 472.8,437.2 484.8,437.2"/>
<polygon points="513.7,405.6 507.7,415.8 519.7,415.8"/>
<polygon points="548.8,385.7 542.8,395.9 554.8,395.9"/>
<polygon points="584.3,366.1 578.3,376.3 590.3,376.3"/>
<polygon points="623.3,352 617.3,362.2 629.3,362.2"/>
<polygon points="664.6,344 658.6,354.2 670.6,354.2"/>
<polygon points="704.7,342.3 698.7,352.5 710.7,352.5"/>
<polygon points="742.7,352 736.7,362.2 748.7,362.2"/>
<polygon points="776.3,373.7 770.3,383.9 782.3,383.9"/>
<polygon points="805.6,402.2 799.6,412.4 811.6,412.4"/>
<polygon points="827.3,435.9 821.3,446.1 833.3,446.1"/>
<polygon points="846.5,477.5 840.5,487.7 852.5,487.7"/>
<polygon points="860.8,514.3 854.8,524.5 866.8,524.5"/>
<polygon points="878.2,546.1 872.2,556.3 884.2,556.3"/>
</g>
<g fill="#FF0000">
<polygon points="612.5,472.5 606.5,482.7 618.5,482.7"/>
<polygon points="620.1,466 614.1,476.2 626.1,476.2"/>
<polygon points="627.7,460.6 621.7,470.8 633.7,470.8"/>
<polygon points="637.4,455.1 631.4,465.3 643.4,465.3"/>
<polygon points="650,450.4 644,460.6 656,460.6"/>
<polygon points="662,444.3 656,454.5 668,454.5"/>
<polygon points="675.9,437.3 669.9,447.5 681.9,447.5"/>
<polygon points="690,428 684,438.2 696,438.2"/>
<polygon points="703.6,417.2 697.6,427.4 709.6,427.4"/>
<polygon points="719.5,404.6 713.5,414.8 725.5,414.8"/>
<polygon points="737.3,392.2 731.3,402.4 743.3,402.4"/>
<polygon points="756.8,383.1 750.8,393.3 762.8,393.3"/>
<polygon points="780.7,381.4 774.7,391.6 786.7,391.6"/>
<polygon points="802,388.8 796,399 808,399"/>
<polygon points="819.9,403.1 813.9,413.3 825.9,413.3"/>
<polygon points="835.1,420.4 829.1,430.6 841.1,430.6"/>
<polygon points="847.4,441.7 841.4,451.9 853.4,451.9"/>
<polygon points="854.5,468.5 848.5,478.7 860.5,478.7"/>
<polygon points="859.2,498.2 853.2,508.4 865.2,508.4"/>
<polygon points="865.5,522.9 859.5,533.1 871.5,533.1"/>
<polygon points="878.2,546.1 872.2,556.3 884.2,556.3"/>
</g>
<g fill="#FF00FF">
<rect x="810.25" y="565.55" width="7.9" height="7.9"/>
<rect x="820.45" y="573.95" width="7.9" height="7.9"/>
<rect x="832.15" y="580.35" width="7.9" height="7.9"/>
<rect x="845.05" y="588.05" width="7.9" height="7.9"/>
<rect x="855.55" y="591.55" width="7.9" height="7.9"/>
<rect x="864.65" y="592.25" width="7.9" height="7.9"/>
<rect x="875.25" y="589.45" width="7.9" height="7.9"/>
<rect x="884.35" y="586.65" width="7.9" height="7.9"/>
<rect x="891.35" y="584.55" width="7.9" height="7.9"/>
<rect x="898.35" y="577.45" width="7.9" height="7.9"/>
<rect x="901.45" y="567.65" width="7.9" height="7.9"/>
<rect x="902.35" y="559.95" width="7.9" height="7.9"/>
<rect x="902.65" y="550.85" width="7.9" height="7.9"/>
<rect x="899.55" y="540.95" width="7.9" height="7.9"/>
<rect x="896.25" y="529.75" width="7.9" height="7.9"/>
<rect x="892.75" y="521.35" width="7.9" height="7.9"/>
<rect x="887.15" y="512.65" width="7.9" height="7.9"/>
<rect x="875.95" y="515.05" width="7.9" height="7.9"/>
<rect x="870.35" y="526.25" width="7.9" height="7.9"/>
<rect x="874.25" y="547.25" width="7.9" height="7.9"/>
</g>
<text x="332.1" y="394.3" font-size="30.5" letter-spacing="0.45" fill="#000">1 (23%)</text>
<text x="685.5" y="224.8" font-size="30.5" letter-spacing="0.45" fill="#000">2 (13%)</text>
<text x="457.7" y="347.2" font-size="30.5" letter-spacing="0.45" fill="#000">3 (11%)</text>
<text x="280.6" y="590.9" font-size="30.5" letter-spacing="0.45" fill="#000">4 (19%)</text>
<text x="540.7" y="516.8" font-size="30.5" letter-spacing="0.45" fill="#000">5 (22%)</text>
<text x="763.9" y="631" font-size="30.5" letter-spacing="0.45" fill="#000">6 (11%)</text>
<g fill="none" stroke="#a4a4a4" stroke-width="1.8" stroke-dasharray="2 2">
<line x1="694.13" y1="702.49" x2="1185.37" y2="463.95"/>
<line x1="684.89" y1="687.89" x2="1110.96" y2="346.29"/>
<line x1="672.64" y1="675.69" x2="1012.3" y2="248.07"/>
<line x1="657.99" y1="666.52" x2="894.3" y2="174.2"/>
<line x1="641.67" y1="660.83" x2="762.85" y2="128.34"/>
<line x1="624.5" y1="658.9" x2="624.5" y2="112.8"/>
<line x1="607.33" y1="660.83" x2="486.15" y2="128.34"/>
<line x1="591.01" y1="666.52" x2="354.7" y2="174.2"/>
<line x1="576.36" y1="675.69" x2="236.7" y2="248.07"/>
<line x1="564.11" y1="687.89" x2="138.04" y2="346.29"/>
<line x1="554.87" y1="702.49" x2="63.63" y2="463.95"/>
<path d="M146.42 546.76 A514.28 514.28 0 0 1 1102.58 546.76"/>
<path d="M298.72 607.14 A350.45 350.45 0 0 1 950.28 607.14"/>
<path d="M451.02 667.52 A186.62 186.62 0 0 1 797.98 667.52"/>
</g>
<g fill="#d0d0d0">
<rect x="1184.57" y="463.15" width="1.6" height="1.6"/>
<rect x="693.33" y="701.69" width="1.6" height="1.6"/>
<rect x="1110.16" y="345.49" width="1.6" height="1.6"/>
<rect x="684.09" y="687.09" width="1.6" height="1.6"/>
<rect x="1011.5" y="247.27" width="1.6" height="1.6"/>
<rect x="671.84" y="674.89" width="1.6" height="1.6"/>
<rect x="893.5" y="173.4" width="1.6" height="1.6"/>
<rect x="657.19" y="665.72" width="1.6" height="1.6"/>
<rect x="762.05" y="127.54" width="1.6" height="1.6"/>
<rect x="640.87" y="660.03" width="1.6" height="1.6"/>
<rect x="623.7" y="112" width="1.6" height="1.6"/>
<rect x="623.7" y="658.1" width="1.6" height="1.6"/>
<rect x="485.35" y="127.54" width="1.6" height="1.6"/>
<rect x="606.53" y="660.03" width="1.6" height="1.6"/>
<rect x="353.9" y="173.4" width="1.6" height="1.6"/>
<rect x="590.21" y="665.72" width="1.6" height="1.6"/>
<rect x="235.9" y="247.27" width="1.6" height="1.6"/>
<rect x="575.56" y="674.89" width="1.6" height="1.6"/>
<rect x="137.24" y="345.49" width="1.6" height="1.6"/>
<rect x="563.31" y="687.09" width="1.6" height="1.6"/>
<rect x="62.83" y="463.15" width="1.6" height="1.6"/>
<rect x="554.07" y="701.69" width="1.6" height="1.6"/>
<rect x="145.62" y="545.96" width="1.6" height="1.6"/>
<rect x="1101.78" y="545.96" width="1.6" height="1.6"/>
<rect x="297.92" y="606.34" width="1.6" height="1.6"/>
<rect x="949.48" y="606.34" width="1.6" height="1.6"/>
<rect x="450.22" y="666.72" width="1.6" height="1.6"/>
<rect x="797.18" y="666.72" width="1.6" height="1.6"/>
</g>
<text transform="translate(1229.05 449.97) rotate(64.1)" text-anchor="middle" font-size="25.7" fill="#000" y="9.2">45<tspan font-size="23" dy="-10.1">&#176;</tspan><tspan dy="10.1">&#160;W</tspan></text>
<text transform="translate(1150.45 322.96) rotate(51.28)" text-anchor="middle" font-size="25.7" fill="#000" y="9.2">60<tspan font-size="23" dy="-10.1">&#176;</tspan><tspan dy="10.1">&#160;W</tspan></text>
<text transform="translate(1045.62 216.57) rotate(38.46)" text-anchor="middle" font-size="25.7" fill="#000" y="9.2">75<tspan font-size="23" dy="-10.1">&#176;</tspan><tspan dy="10.1">&#160;W</tspan></text>
<text transform="translate(919.8 136.08) rotate(25.64)" text-anchor="middle" font-size="25.7" fill="#000" y="9.2">90<tspan font-size="23" dy="-10.1">&#176;</tspan><tspan dy="10.1">&#160;W</tspan></text>
<text transform="translate(776.04 84.78) rotate(12.82)" text-anchor="middle" font-size="25.7" fill="#000" y="9.2">105<tspan font-size="23" dy="-10.1">&#176;</tspan><tspan dy="10.1">&#160;W</tspan></text>
<text transform="translate(627.7 67.4) rotate(0)" text-anchor="middle" font-size="25.7" fill="#000" y="9.2">120<tspan font-size="23" dy="-10.1">&#176;</tspan><tspan dy="10.1">&#160;W</tspan></text>
<text transform="translate(479.2 83.36) rotate(-12.82)" text-anchor="middle" font-size="25.7" fill="#000" y="9.2">135<tspan font-size="23" dy="-10.1">&#176;</tspan><tspan dy="10.1">&#160;W</tspan></text>
<text transform="translate(337.94 131.88) rotate(-25.64)" text-anchor="middle" font-size="25.7" fill="#000" y="9.2">150<tspan font-size="23" dy="-10.1">&#176;</tspan><tspan dy="10.1">&#160;W</tspan></text>
<text transform="translate(210.97 210.53) rotate(-38.46)" text-anchor="middle" font-size="25.7" fill="#000" y="9.2">165<tspan font-size="23" dy="-10.1">&#176;</tspan><tspan dy="10.1">&#160;W</tspan></text>
<text transform="translate(104.62 315.4) rotate(-51.28)" text-anchor="middle" font-size="25.7" fill="#000" y="9.2">180<tspan font-size="23" dy="-10.1">&#176;</tspan><tspan dy="10.1">&#160;W</tspan></text>
<text transform="translate(24.18 441.24) rotate(-64.1)" text-anchor="middle" font-size="25.7" fill="#000" y="9.2">195<tspan font-size="23" dy="-10.1">&#176;</tspan><tspan dy="10.1">&#160;W</tspan></text>
<text transform="translate(134.12 590.26) rotate(-68.37)" text-anchor="middle" font-size="25.7" fill="#000" y="9.2">45<tspan font-size="23" dy="-10.1">&#176;</tspan><tspan dy="10.1">&#160;S</tspan></text>
<text transform="translate(286.42 650.64) rotate(-68.37)" text-anchor="middle" font-size="25.7" fill="#000" y="9.2">60<tspan font-size="23" dy="-10.1">&#176;</tspan><tspan dy="10.1">&#160;S</tspan></text>
<text transform="translate(438.72 711.02) rotate(-68.37)" text-anchor="middle" font-size="25.7" fill="#000" y="9.2">75<tspan font-size="23" dy="-10.1">&#176;</tspan><tspan dy="10.1">&#160;S</tspan></text>
<text x="-2.1" y="38" font-size="38.5" letter-spacing="1" fill="#000">(a)</text>
<text x="1268.1" y="38" font-size="38.5" letter-spacing="1" fill="#000">(b)</text>
<g stroke="#262626" stroke-width="4.3" fill="none">
<rect x="1373.5" y="2.3" width="624" height="753.3" stroke-linejoin="miter"/>
<line x1="1373.5" y1="734.5" x2="1383.3" y2="734.5"/>
<line x1="1997.5" y1="734.5" x2="1987.7" y2="734.5"/>
<line x1="1373.5" y1="666.77" x2="1383.3" y2="666.77"/>
<line x1="1997.5" y1="666.77" x2="1987.7" y2="666.77"/>
<line x1="1373.5" y1="599.04" x2="1383.3" y2="599.04"/>
<line x1="1997.5" y1="599.04" x2="1987.7" y2="599.04"/>
<line x1="1373.5" y1="531.31" x2="1383.3" y2="531.31"/>
<line x1="1997.5" y1="531.31" x2="1987.7" y2="531.31"/>
<line x1="1373.5" y1="463.58" x2="1383.3" y2="463.58"/>
<line x1="1997.5" y1="463.58" x2="1987.7" y2="463.58"/>
<line x1="1373.5" y1="395.85" x2="1383.3" y2="395.85"/>
<line x1="1997.5" y1="395.85" x2="1987.7" y2="395.85"/>
<line x1="1373.5" y1="328.12" x2="1383.3" y2="328.12"/>
<line x1="1997.5" y1="328.12" x2="1987.7" y2="328.12"/>
<line x1="1373.5" y1="260.39" x2="1383.3" y2="260.39"/>
<line x1="1997.5" y1="260.39" x2="1987.7" y2="260.39"/>
<line x1="1373.5" y1="192.66" x2="1383.3" y2="192.66"/>
<line x1="1997.5" y1="192.66" x2="1987.7" y2="192.66"/>
<line x1="1373.5" y1="124.93" x2="1383.3" y2="124.93"/>
<line x1="1997.5" y1="124.93" x2="1987.7" y2="124.93"/>
<line x1="1373.5" y1="57.2" x2="1383.3" y2="57.2"/>
<line x1="1997.5" y1="57.2" x2="1987.7" y2="57.2"/>
<line x1="1425.5" y1="755.6" x2="1425.5" y2="746"/>
<line x1="1425.5" y1="2.3" x2="1425.5" y2="12.3"/>
<line x1="1529.5" y1="755.6" x2="1529.5" y2="746"/>
<line x1="1529.5" y1="2.3" x2="1529.5" y2="12.3"/>
<line x1="1633.5" y1="755.6" x2="1633.5" y2="746"/>
<line x1="1633.5" y1="2.3" x2="1633.5" y2="12.3"/>
<line x1="1737.5" y1="755.6" x2="1737.5" y2="746"/>
<line x1="1737.5" y1="2.3" x2="1737.5" y2="12.3"/>
<line x1="1841.5" y1="755.6" x2="1841.5" y2="746"/>
<line x1="1841.5" y1="2.3" x2="1841.5" y2="12.3"/>
<line x1="1945.5" y1="755.6" x2="1945.5" y2="746"/>
<line x1="1945.5" y1="2.3" x2="1945.5" y2="12.3"/>
</g>
<text x="1368.5" y="744.3" font-size="23" text-anchor="end" fill="#262626">8</text>
<text x="1368.5" y="676.57" font-size="23" text-anchor="end" fill="#262626">9</text>
<text x="1368.5" y="608.84" font-size="23" text-anchor="end" fill="#262626">10</text>
<text x="1368.5" y="541.11" font-size="23" text-anchor="end" fill="#262626">11</text>
<text x="1368.5" y="473.38" font-size="23" text-anchor="end" fill="#262626">12</text>
<text x="1368.5" y="405.65" font-size="23" text-anchor="end" fill="#262626">13</text>
<text x="1368.5" y="337.92" font-size="23" text-anchor="end" fill="#262626">14</text>
<text x="1368.5" y="270.19" font-size="23" text-anchor="end" fill="#262626">15</text>
<text x="1368.5" y="202.46" font-size="23" text-anchor="end" fill="#262626">16</text>
<text x="1368.5" y="134.73" font-size="23" text-anchor="end" fill="#262626">17</text>
<text x="1368.5" y="67" font-size="23" text-anchor="end" fill="#262626">18</text>
<text x="1425.5" y="781.8" font-size="23.6" textLength="92.6" lengthAdjust="spacingAndGlyphs" text-anchor="middle" fill="#262626">Cluster 1</text>
<text x="1529.5" y="781.8" font-size="23.6" textLength="92.6" lengthAdjust="spacingAndGlyphs" text-anchor="middle" fill="#262626">Cluster 2</text>
<text x="1633.5" y="781.8" font-size="23.6" textLength="92.6" lengthAdjust="spacingAndGlyphs" text-anchor="middle" fill="#262626">Cluster 3</text>
<text x="1737.5" y="781.8" font-size="23.6" textLength="92.6" lengthAdjust="spacingAndGlyphs" text-anchor="middle" fill="#262626">Cluster 4</text>
<text x="1841.5" y="781.8" font-size="23.6" textLength="92.6" lengthAdjust="spacingAndGlyphs" text-anchor="middle" fill="#262626">Cluster 5</text>
<text x="1945.5" y="781.8" font-size="23.6" textLength="92.6" lengthAdjust="spacingAndGlyphs" text-anchor="middle" fill="#262626">Cluster 6</text>
<text transform="translate(1329.8 380.4) rotate(-90)" text-anchor="middle" font-size="38.5" fill="#262626">Temperature (&#176;C)</text>
<g stroke-width="4.2" fill="none">
<path d="M1425.5 507 V274.4 M1425.5 721.2 V687.2" stroke="#000" stroke-dasharray="15.4 15.84"/>
<path d="M1412.5 274.4 H1438.5 M1412.5 721.2 H1438.5" stroke="#000"/>
<rect x="1399.7" y="507" width="51.6" height="180.2" stroke="#0000FF"/>
<path d="M1399.7 626.5 H1451.3" stroke="#FF0000"/>
</g>
<g stroke-width="4.2" fill="none">
<path d="M1529.5 515.2 V328.6 M1529.5 720.3 V689.2" stroke="#000" stroke-dasharray="15.4 15.84"/>
<path d="M1516.5 328.6 H1542.5 M1516.5 720.3 H1542.5" stroke="#000"/>
<rect x="1503.7" y="515.2" width="51.6" height="174" stroke="#0000FF"/>
<path d="M1503.7 660.4 H1555.3" stroke="#FF0000"/>
</g>
<g stroke-width="4.2" fill="none">
<path d="M1633.5 490.9 V395.7 M1633.5 714.4 V666.5" stroke="#000" stroke-dasharray="15.4 15.84"/>
<path d="M1620.5 395.7 H1646.5 M1620.5 714.4 H1646.5" stroke="#000"/>
<rect x="1607.7" y="490.9" width="51.6" height="175.6" stroke="#0000FF"/>
<path d="M1607.7 588.9 H1659.3" stroke="#FF0000"/>
</g>
<g stroke-width="4.2" fill="none">
<path d="M1737.5 599.6 V518.1 M1737.5 721.2 V677" stroke="#000" stroke-dasharray="15.4 15.84"/>
<path d="M1724.5 518.1 H1750.5 M1724.5 721.2 H1750.5" stroke="#000"/>
<rect x="1711.7" y="599.6" width="51.6" height="77.4" stroke="#0000FF"/>
<path d="M1711.7 657.1 H1763.3" stroke="#FF0000"/>
<path d="M1725.5 328.6 H1749.5 M1737.5 316.1 V341.1" stroke="#FF0000" stroke-width="4"/>
<path d="M1725.5 388.9 H1749.5 M1737.5 376.4 V401.4" stroke="#FF0000" stroke-width="4"/>
<path d="M1725.5 450.4 H1749.5 M1737.5 437.9 V462.9" stroke="#FF0000" stroke-width="4"/>
<path d="M1725.5 464 H1749.5 M1737.5 451.5 V476.5" stroke="#FF0000" stroke-width="4"/>
</g>
<g stroke-width="4.2" fill="none">
<path d="M1841.5 477.5 V192.7 M1841.5 721.2 V694.3" stroke="#000" stroke-dasharray="15.4 15.84"/>
<path d="M1828.5 192.7 H1854.5 M1828.5 721.2 H1854.5" stroke="#000"/>
<rect x="1815.7" y="477.5" width="51.6" height="216.8" stroke="#0000FF"/>
<path d="M1815.7 613.1 H1867.3" stroke="#FF0000"/>
<path d="M1829.5 36.5 H1853.5 M1841.5 24 V49" stroke="#FF0000" stroke-width="4"/>
</g>
<g stroke-width="4.2" fill="none">
<path d="M1945.5 584.1 V477.3 M1945.5 707.6 V666.4" stroke="#000" stroke-dasharray="15.4 15.84"/>
<path d="M1932.5 477.3 H1958.5 M1932.5 707.6 H1958.5" stroke="#000"/>
<rect x="1919.7" y="584.1" width="51.6" height="82.3" stroke="#0000FF"/>
<path d="M1919.7 599.5 H1971.3" stroke="#FF0000"/>
<path d="M1933.5 260.9 H1957.5 M1945.5 248.4 V273.4" stroke="#FF0000" stroke-width="4"/>
<path d="M1933.5 342.3 H1957.5 M1945.5 329.8 V354.8" stroke="#FF0000" stroke-width="4"/>
</g>
</svg>
</body></html>
